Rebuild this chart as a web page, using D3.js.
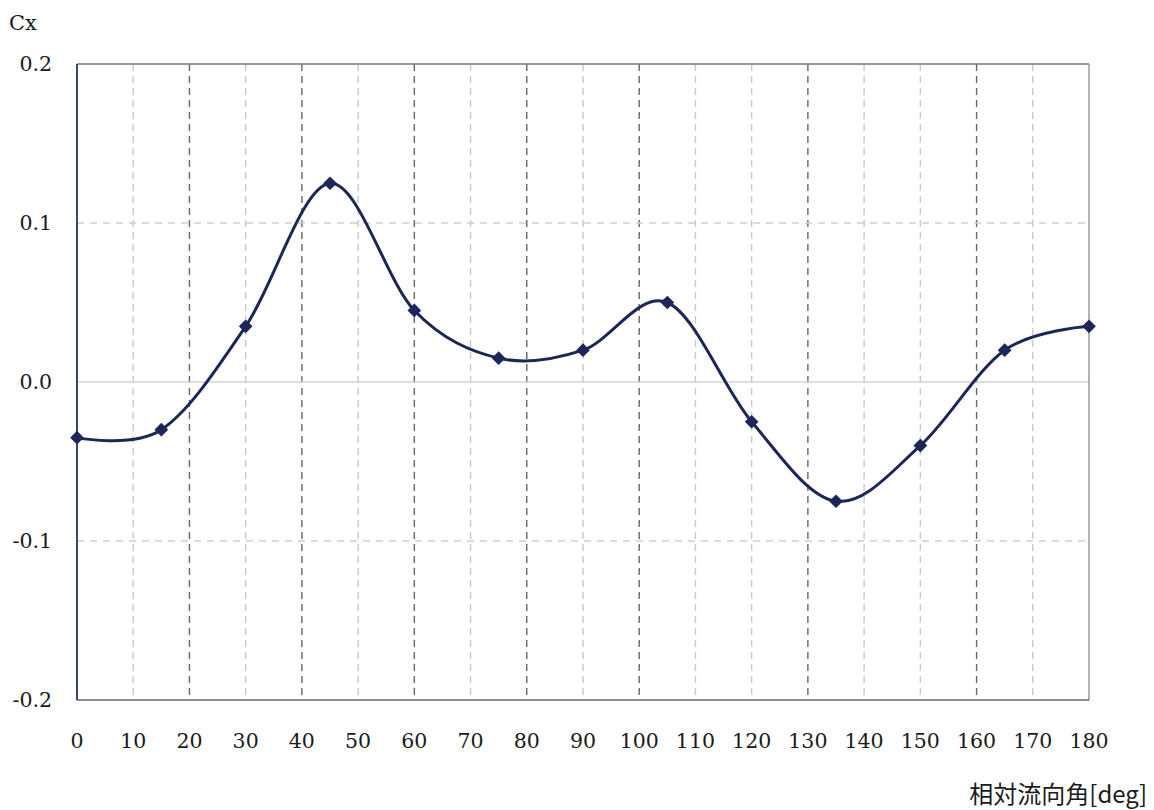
<!DOCTYPE html>
<html><head><meta charset="utf-8">
<script src="https://cdn.jsdelivr.net/npm/d3@7"></script>
<style>body{margin:0;background:#fff;}svg{display:block;}</style>
</head><body>
<svg id="c" width="1154" height="810"></svg>
<script>
const angles = [0,15,30,45,60,75,90,105,120,135,150,165,180];
const cx = [-0.035,-0.030,0.035,0.125,0.045,0.015,0.020,0.050,-0.025,-0.075,-0.040,0.020,0.035];
const xTicks = [0,10,20,30,40,50,60,70,80,90,100,110,120,130,140,150,160,170,180];
const yTicks = [0.2,0.1,0.0,-0.1,-0.2];
const yTickLabels = ["0.2","0.1","0.0","-0.1","-0.2"];
const darkGrid = [20,40,60,80,100,130,160];

const svg = d3.select("#c");
const L=77,R=1089,T=64,B=700;
const x = d3.scaleLinear().domain([0,180]).range([L,R]);
const y = d3.scaleLinear().domain([-0.2,0.2]).range([B,T]);
const font = "'DejaVu Serif','Liberation Serif',serif";

// vertical grid
svg.append("g").selectAll("line").data(xTicks.filter(d=>d>0&&d<180)).join("line")
  .attr("x1",d=>x(d)).attr("x2",d=>x(d)).attr("y1",T).attr("y2",B)
  .attr("stroke",d=>darkGrid.includes(d)?"#666":"#c8c8c8")
  .attr("stroke-width",1.4).attr("stroke-dasharray","7,5");
// horizontal grid
svg.append("g").selectAll("line").data([0.1,-0.1]).join("line")
  .attr("x1",L).attr("x2",R).attr("y1",d=>y(d)).attr("y2",d=>y(d))
  .attr("stroke","#d0d0d0").attr("stroke-width",1.3).attr("stroke-dasharray","7,6");
svg.append("line").attr("x1",L).attr("x2",R).attr("y1",y(0)).attr("y2",y(0))
  .attr("stroke","#d4d4d4").attr("stroke-width",1.5);
// frame
svg.append("line").attr("x1",L).attr("x2",R).attr("y1",T).attr("y2",T).attr("stroke","#777").attr("stroke-width",1.5);
svg.append("line").attr("x1",R).attr("x2",R).attr("y1",T).attr("y2",B).attr("stroke","#999").attr("stroke-width",1.5);
svg.append("line").attr("x1",L).attr("x2",R).attr("y1",B).attr("y2",B).attr("stroke","#666").attr("stroke-width",1.5);
svg.append("line").attr("x1",L).attr("x2",L).attr("y1",T).attr("y2",B).attr("stroke","#3a4a66").attr("stroke-width",2);

// y tick labels
svg.append("g").selectAll("text").data(yTicks).join("text")
  .attr("x",52).attr("y",d=>y(d)).attr("dy","0.35em").attr("text-anchor","end")
  .attr("font-family",font).attr("font-size",20.5).attr("fill","#1a1a1a")
  .text((d,i)=>yTickLabels[i]);
// x tick labels
svg.append("g").selectAll("text").data(xTicks).join("text")
  .attr("x",d=>x(d)).attr("y",748).attr("text-anchor","middle")
  .attr("font-family",font).attr("font-size",20.5).attr("fill","#1a1a1a")
  .text(d=>d);
svg.append("text").attr("x",9).attr("y",30).attr("font-family",font).attr("font-size",21).attr("fill","#1a1a1a").text("Cx");
svg.append("text").attr("x",1147).attr("y",803).attr("text-anchor","end")
  .attr("font-family","'Noto Sans CJK JP',"+font).attr("font-size",24).attr("fill","#1a1a1a").text("相対流向角[deg]");

// line
const line = d3.line().x((d,i)=>x(angles[i])).y(d=>y(d)).curve(d3.curveCardinal.tension(0));
svg.append("path").datum(cx).attr("d",line).attr("fill","none").attr("stroke","#1c2658").attr("stroke-width",3);
// markers
svg.append("g").selectAll("path").data(cx).join("path")
  .attr("transform",(d,i)=>`translate(${x(angles[i])},${y(d)})`)
  .attr("d",d3.symbol(d3.symbolDiamond2,120)).attr("fill","#1c2658");
</script>
</body></html>
